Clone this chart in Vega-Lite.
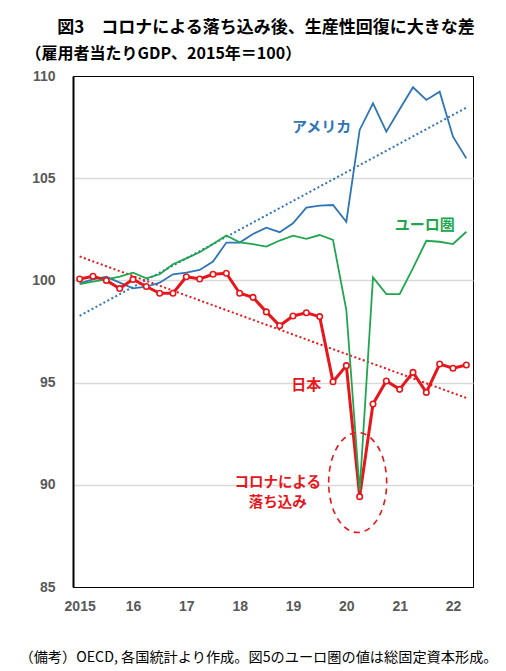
{
  "$schema": "https://vega.github.io/schema/vega-lite/v6.json",
  "width": 400,
  "height": 511,
  "autosize": "none",
  "padding": {"left": 73, "top": 76, "right": 33, "bottom": 84},
  "config": {
    "font": "Noto Sans CJK JP",
    "view": {"stroke": "black", "strokeWidth": 1}
  },
  "title": {
    "text": "図3　コロナによる落ち込み後、生産性回復に大きな差",
    "font": "Noto Sans CJK JP",
    "fontSize": 17,
    "fontWeight": "bold",
    "color": "black",
    "anchor": "middle",
    "frame": "group",
    "dx": -7,
    "offset": 8
  },
  "datasets": {
    "main": [
      {"q": 0, "s": "us", "v": 99.86}, {"q": 1, "s": "us", "v": 100.05}, {"q": 2, "s": "us", "v": 100.18},
      {"q": 3, "s": "us", "v": 99.89}, {"q": 4, "s": "us", "v": 99.61}, {"q": 5, "s": "us", "v": 99.69},
      {"q": 6, "s": "us", "v": 99.89}, {"q": 7, "s": "us", "v": 100.3}, {"q": 8, "s": "us", "v": 100.38},
      {"q": 9, "s": "us", "v": 100.51}, {"q": 10, "s": "us", "v": 100.92}, {"q": 11, "s": "us", "v": 101.85},
      {"q": 12, "s": "us", "v": 101.85}, {"q": 13, "s": "us", "v": 102.27}, {"q": 14, "s": "us", "v": 102.58},
      {"q": 15, "s": "us", "v": 102.36}, {"q": 16, "s": "us", "v": 102.79}, {"q": 17, "s": "us", "v": 103.56},
      {"q": 18, "s": "us", "v": 103.66}, {"q": 19, "s": "us", "v": 103.69}, {"q": 20, "s": "us", "v": 102.87},
      {"q": 21, "s": "us", "v": 107.36}, {"q": 22, "s": "us", "v": 108.66}, {"q": 23, "s": "us", "v": 107.28},
      {"q": 24, "s": "us", "v": 108.37}, {"q": 25, "s": "us", "v": 109.45}, {"q": 26, "s": "us", "v": 108.83},
      {"q": 27, "s": "us", "v": 109.23}, {"q": 28, "s": "us", "v": 107.03}, {"q": 29, "s": "us", "v": 105.97},
      {"q": 0, "s": "eu", "v": 99.82}, {"q": 1, "s": "eu", "v": 99.94}, {"q": 2, "s": "eu", "v": 100.05},
      {"q": 3, "s": "eu", "v": 100.18}, {"q": 4, "s": "eu", "v": 100.38}, {"q": 5, "s": "eu", "v": 100.1},
      {"q": 6, "s": "eu", "v": 100.3}, {"q": 7, "s": "eu", "v": 100.79}, {"q": 8, "s": "eu", "v": 101.08},
      {"q": 9, "s": "eu", "v": 101.38}, {"q": 10, "s": "eu", "v": 101.78}, {"q": 11, "s": "eu", "v": 102.2},
      {"q": 12, "s": "eu", "v": 101.86}, {"q": 13, "s": "eu", "v": 101.77}, {"q": 14, "s": "eu", "v": 101.65},
      {"q": 15, "s": "eu", "v": 101.95}, {"q": 16, "s": "eu", "v": 102.19}, {"q": 17, "s": "eu", "v": 102.03},
      {"q": 18, "s": "eu", "v": 102.22}, {"q": 19, "s": "eu", "v": 101.98}, {"q": 20, "s": "eu", "v": 98.55},
      {"q": 21, "s": "eu", "v": 89.7}, {"q": 22, "s": "eu", "v": 100.15}, {"q": 23, "s": "eu", "v": 99.33},
      {"q": 24, "s": "eu", "v": 99.33}, {"q": 25, "s": "eu", "v": 100.6}, {"q": 26, "s": "eu", "v": 101.94},
      {"q": 27, "s": "eu", "v": 101.89}, {"q": 28, "s": "eu", "v": 101.78}, {"q": 29, "s": "eu", "v": 102.38},
      {"q": 0, "s": "jp", "v": 100.07}, {"q": 1, "s": "jp", "v": 100.2}, {"q": 2, "s": "jp", "v": 100.0},
      {"q": 3, "s": "jp", "v": 99.6}, {"q": 4, "s": "jp", "v": 100.05}, {"q": 5, "s": "jp", "v": 99.7},
      {"q": 6, "s": "jp", "v": 99.37}, {"q": 7, "s": "jp", "v": 99.37}, {"q": 8, "s": "jp", "v": 100.18},
      {"q": 9, "s": "jp", "v": 100.07}, {"q": 10, "s": "jp", "v": 100.3}, {"q": 11, "s": "jp", "v": 100.35},
      {"q": 12, "s": "jp", "v": 99.37}, {"q": 13, "s": "jp", "v": 99.17}, {"q": 14, "s": "jp", "v": 98.46},
      {"q": 15, "s": "jp", "v": 97.78}, {"q": 16, "s": "jp", "v": 98.26}, {"q": 17, "s": "jp", "v": 98.42},
      {"q": 18, "s": "jp", "v": 98.23}, {"q": 19, "s": "jp", "v": 95.04}, {"q": 20, "s": "jp", "v": 95.83},
      {"q": 21, "s": "jp", "v": 89.42}, {"q": 22, "s": "jp", "v": 93.95}, {"q": 23, "s": "jp", "v": 95.08},
      {"q": 24, "s": "jp", "v": 94.67}, {"q": 25, "s": "jp", "v": 95.5}, {"q": 26, "s": "jp", "v": 94.52},
      {"q": 27, "s": "jp", "v": 95.91}, {"q": 28, "s": "jp", "v": 95.7}, {"q": 29, "s": "jp", "v": 95.86}
    ],
    "trend": [
      {"q": 0, "s": "us", "v": 98.27}, {"q": 29, "s": "us", "v": 108.45},
      {"q": 0, "s": "jp", "v": 101.17}, {"q": 29, "s": "jp", "v": 94.25}
    ],
    "labels": [
      {"q": 18.15, "v": 107.49, "s": "us", "label": "アメリカ", "fs": 15},
      {"q": 25.88, "v": 102.72, "s": "eu", "label": "ユーロ圏", "fs": 15},
      {"q": 16.99, "v": 94.9, "s": "jp", "label": "日本", "fs": 15},
      {"q": 14.85, "v": 90.08, "s": "jp", "label": "コロナによる", "fs": 14.5},
      {"q": 14.85, "v": 89.12, "s": "jp", "label": "落ち込み", "fs": 14.5}
    ],
    "ring": [
      {"q": 20.85, "v": 90.11}
    ]
  },
  "encoding": {
    "x": {
      "field": "q",
      "type": "quantitative",
      "scale": {"domain": [-0.5, 29.5], "nice": false, "zero": false},
      "axis": {
        "values": [0, 4, 8, 12, 16, 20, 24, 28],
        "labelExpr": "datum.value == 0 ? '2015' : toString(15 + datum.value / 4)",
        "grid": false,
        "ticks": false,
        "domainColor": "black",
        "labelFont": "Liberation Sans",
        "labelFontWeight": "bold",
        "labelFontSize": 14,
        "labelColor": "#595959",
        "labelPadding": 12,
        "title": "（備考）OECD, 各国統計より作成。図5のユーロ圏の値は総固定資本形成。",
        "titleFont": "Noto Sans CJK JP",
        "titleFontWeight": "normal",
        "titleFontSize": 14.2,
        "titleColor": "black",
        "titleX": 185,
        "titleY": 70,
        "titleAlign": "center",
        "titleBaseline": "middle"
      }
    },
    "y": {
      "field": "v",
      "type": "quantitative",
      "scale": {"domain": [85, 110], "nice": false, "zero": false},
      "axis": {
        "values": [85, 90, 95, 100, 105, 110],
        "ticks": false,
        "domainColor": "black",
        "domainWidth": 2,
        "gridColor": {"condition": {"test": "datum.value == 85 || datum.value == 110", "value": "transparent"}, "value": "#d9d9d9"},
        "gridWidth": 1.5,
        "labelFont": "Liberation Sans",
        "labelFontWeight": "bold",
        "labelFontSize": 14,
        "labelColor": "#595959",
        "labelPadding": 18,
        "title": "（雇用者当たりGDP、2015年＝100）",
        "titleFont": "Noto Sans CJK JP",
        "titleFontWeight": "bold",
        "titleFontSize": 16,
        "titleColor": "black",
        "titleAngle": 0,
        "titleAlign": "left",
        "titleBaseline": "middle",
        "titleX": -48,
        "titleY": -23
      }
    },
    "color": {
      "field": "s",
      "type": "nominal",
      "scale": {"domain": ["us", "eu", "jp"], "range": ["#2e75b6", "#21a650", "#e8151b"]},
      "legend": null
    }
  },
  "layer": [
    {
      "data": {"name": "trend"},
      "mark": {"type": "line", "strokeWidth": 2, "strokeDash": [2, 2.5]}
    },
    {
      "data": {"name": "main"},
      "transform": [{"filter": "datum.s == 'us'"}],
      "mark": {"type": "line", "strokeWidth": 1.8}
    },
    {
      "data": {"name": "main"},
      "transform": [{"filter": "datum.s == 'jp'"}],
      "mark": {"type": "line", "strokeWidth": 3}
    },
    {
      "data": {"name": "main"},
      "transform": [{"filter": "datum.s == 'eu'"}],
      "mark": {"type": "line", "strokeWidth": 1.8}
    },
    {
      "data": {"name": "main"},
      "transform": [{"filter": "datum.s == 'jp'"}],
      "mark": {"type": "point", "shape": "circle", "filled": true, "fill": "white", "stroke": "#e8151b", "strokeWidth": 1.6, "size": 30, "opacity": 1},
      "encoding": {"color": {"value": "white"}}
    },
    {
      "data": {"name": "ring"},
      "mark": {"type": "point", "shape": "M -0.58,0 A 0.58,1 0 1,1 0.58,0 A 0.58,1 0 1,1 -0.58,0 Z", "size": 10000, "filled": false, "stroke": "#e8151b", "strokeWidth": 1.6, "strokeDash": [6, 5], "opacity": 1},
      "encoding": {"color": {"value": "#e8151b"}}
    },
    {
      "data": {"name": "labels"},
      "mark": {"type": "text", "font": "Noto Sans CJK JP", "fontWeight": "bold", "align": "center", "baseline": "middle"},
      "encoding": {
        "text": {"field": "label"},
        "size": {"field": "fs", "type": "quantitative", "scale": null}
      }
    }
  ]
}
